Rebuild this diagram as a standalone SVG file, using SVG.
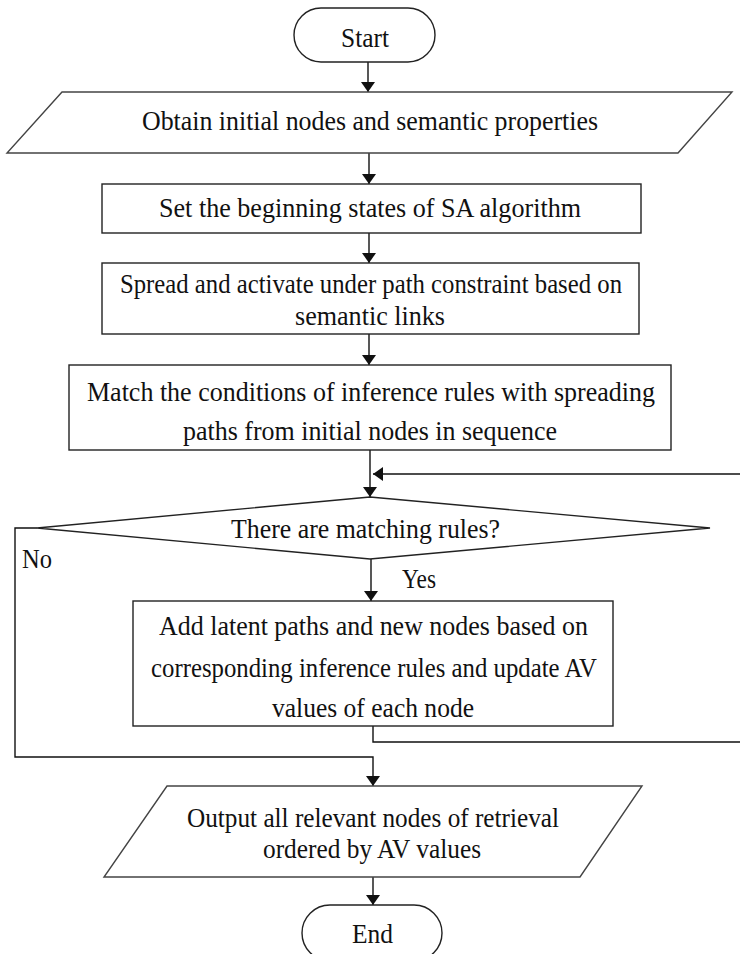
<svg xmlns="http://www.w3.org/2000/svg" width="740" height="954" viewBox="0 0 740 954">
  <defs>
    <marker id="arrow" viewBox="0 0 10 14" refX="10" refY="7" markerWidth="10" markerHeight="14" markerUnits="userSpaceOnUse" orient="auto">
      <path d="M0,0 L10,7 L0,14 Z" fill="#111"/>
    </marker>
    <style>
      .shape { fill: #fff; stroke: #222; stroke-width: 1.4; }
      .para { fill: #fff; stroke: #444; stroke-width: 1.4; }
      .link { fill: none; stroke: #111; stroke-width: 1.4; }
      .arr { marker-end: url(#arrow); }
      text { font-family: "Liberation Serif", "Times New Roman", serif; font-size: 28px; fill: #111; }
    </style>
  </defs>
  <rect width="740" height="954" fill="#fff"/>

  <!-- connectors -->
  <g id="connectors">
    <line class="link arr" x1="368" y1="62" x2="368" y2="92"/>
    <line class="link arr" x1="369" y1="153" x2="369" y2="184"/>
    <line class="link arr" x1="369" y1="233" x2="369" y2="263"/>
    <line class="link arr" x1="369" y1="334" x2="369" y2="365"/>
    <line class="link arr" x1="370" y1="450" x2="370" y2="497"/>
    <line class="link arr" x1="740" y1="474" x2="373" y2="474"/>
    <line class="link arr" x1="371" y1="559" x2="371" y2="601"/>
    <polyline class="link" points="373,726 373,742 740,742"/>
    <polyline class="link arr" points="37,528 15,528 15,757 373,757 373,786"/>
    <line class="link arr" x1="373" y1="877" x2="373" y2="905"/>
    <text x="22" y="568" textLength="30" lengthAdjust="spacingAndGlyphs">No</text>
    <text x="402" y="588" textLength="34" lengthAdjust="spacingAndGlyphs">Yes</text>
  </g>

  <g id="start">
    <rect class="shape" x="294" y="8" width="141" height="54" rx="27" ry="27"/>
    <text x="341" y="47" textLength="48" lengthAdjust="spacingAndGlyphs">Start</text>
  </g>

  <g id="obtain">
    <polygon class="para" points="62,92 732,92 678,153 7,153"/>
    <text x="142" y="130" textLength="456" lengthAdjust="spacingAndGlyphs">Obtain initial nodes and semantic properties</text>
  </g>

  <g id="set-states">
    <rect class="shape" x="102" y="184" width="539" height="49"/>
    <text x="159" y="217" textLength="422" lengthAdjust="spacingAndGlyphs">Set the beginning states of SA algorithm</text>
  </g>

  <g id="spread">
    <rect class="shape" x="102" y="263" width="537" height="71"/>
    <text x="120" y="293" textLength="502" lengthAdjust="spacingAndGlyphs">Spread and activate under path constraint based on</text>
    <text x="295" y="325" textLength="150" lengthAdjust="spacingAndGlyphs">semantic links</text>
  </g>

  <g id="match">
    <rect class="shape" x="69" y="365" width="602" height="85"/>
    <text x="87" y="401" textLength="568" lengthAdjust="spacingAndGlyphs">Match the conditions of inference rules with spreading</text>
    <text x="183" y="440" textLength="374" lengthAdjust="spacingAndGlyphs">paths from initial nodes in sequence</text>
  </g>

  <g id="decision">
    <polygon class="shape" points="370,497 710,528 370,559 37,528"/>
    <text x="231" y="538" textLength="269" lengthAdjust="spacingAndGlyphs">There are matching rules?</text>
  </g>

  <g id="add-paths">
    <rect class="shape" x="133" y="601" width="480" height="125"/>
    <text x="159" y="635" textLength="429" lengthAdjust="spacingAndGlyphs">Add latent paths and new nodes based on</text>
    <text x="151" y="677" textLength="446" lengthAdjust="spacingAndGlyphs">corresponding inference rules and update AV</text>
    <text x="272" y="717" textLength="202" lengthAdjust="spacingAndGlyphs">values of each node</text>
  </g>

  <g id="output">
    <polygon class="para" points="167,786 642,786 580,877 104,877"/>
    <text x="187" y="827" textLength="372" lengthAdjust="spacingAndGlyphs">Output all relevant nodes of retrieval</text>
    <text x="263" y="858" textLength="218" lengthAdjust="spacingAndGlyphs">ordered by AV values</text>
  </g>

  <g id="end">
    <rect class="shape" x="302" y="905" width="140" height="56" rx="28" ry="28"/>
    <text x="352" y="943" textLength="41" lengthAdjust="spacingAndGlyphs">End</text>
  </g>
</svg>
